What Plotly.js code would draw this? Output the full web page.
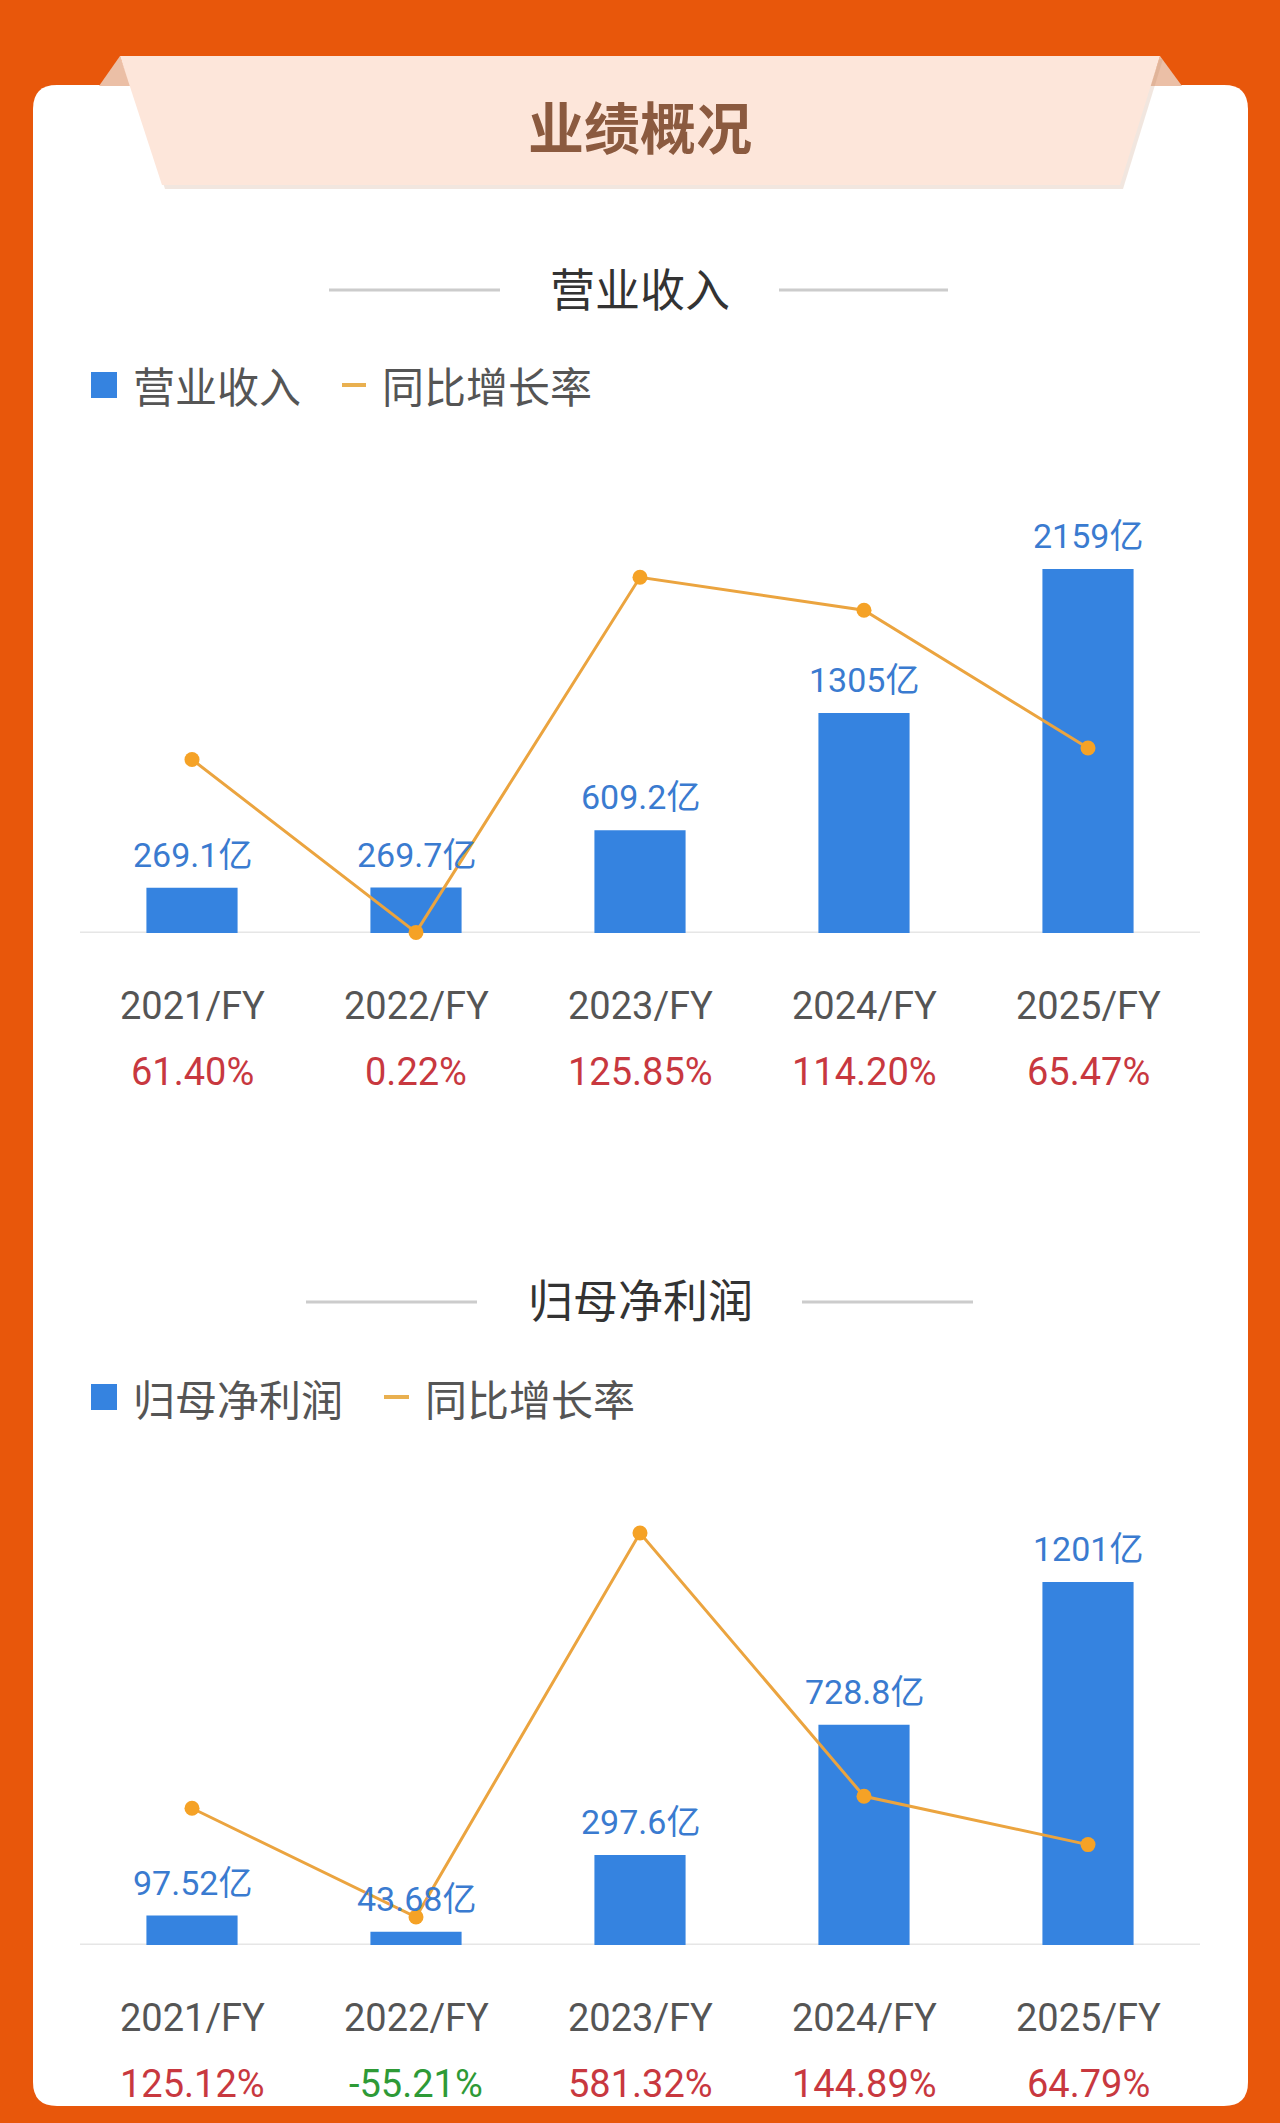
<!DOCTYPE html>
<html>
<head>
<meta charset="utf-8">
<script src="https://cdn.plot.ly/plotly-3.0.1.min.js"></script>
<style>
  html, body { margin: 0; padding: 0; background: #E8570B; }
  #chart { width: 1280px; height: 2123px; }
</style>
</head>
<body>
<div id="chart"></div>
<script>
// ---------- data ----------
const years = ['2021/FY', '2022/FY', '2023/FY', '2024/FY', '2025/FY'];

const revenue = [269.1, 269.7, 609.2, 1305, 2159];
const revenueLabels = ['269.1亿', '269.7亿', '609.2亿', '1305亿', '2159亿'];
const revenueGrowth = [61.40, 0.22, 125.85, 114.20, 65.47];
const revenueGrowthLabels = ['61.40%', '0.22%', '125.85%', '114.20%', '65.47%'];

const profit = [97.52, 43.68, 297.6, 728.8, 1201];
const profitLabels = ['97.52亿', '43.68亿', '297.6亿', '728.8亿', '1201亿'];
const profitGrowth = [125.12, -55.21, 581.32, 144.89, 64.79];
const profitGrowthLabels = ['125.12%', '-55.21%', '581.32%', '144.89%', '64.79%'];

const mainTitle = '业绩概况';
const section1Title = '营业收入';
const section2Title = '归母净利润';
const legend1Bar = '营业收入';
const legend2Bar = '归母净利润';
const legendLine = '同比增长率';

// ---------- helpers ----------
const W = 1280, H = 2123;
const px = x => x / W;
const py = y => 1 - y / H;
const P = (x, y) => px(x).toFixed(5) + ',' + py(y).toFixed(5);

const CJK = '"Noto Sans CJK SC", "Noto Sans", sans-serif';
const NUM = 'Roboto, "Noto Sans CJK SC", sans-serif';

const BAR_COLOR = '#3583E0';
const LINE_COLOR = '#EBA43F';
const MARKER_COLOR = '#F5A226';
const LABEL_BLUE = '#3A7BD0';
const RED = '#C8383F';
const GREEN = '#2E9A36';

function roundRectPath(x0, y0, x1, y1, r) {
  return 'M' + P(x0 + r, y0) + ' L' + P(x1 - r, y0) + ' Q' + P(x1, y0) + ' ' + P(x1, y0 + r) +
    ' L' + P(x1, y1 - r) + ' Q' + P(x1, y1) + ' ' + P(x1 - r, y1) +
    ' L' + P(x0 + r, y1) + ' Q' + P(x0, y1) + ' ' + P(x0, y1 - r) +
    ' L' + P(x0, y0 + r) + ' Q' + P(x0, y0) + ' ' + P(x0 + r, y0) + ' Z';
}
function poly(pts) {
  return 'M' + pts.map(p => P(p[0], p[1])).join(' L') + ' Z';
}

// ---------- traces ----------
const traces = [
  { type: 'bar', x: years, y: revenue, xaxis: 'x', yaxis: 'y',
    marker: { color: BAR_COLOR }, hoverinfo: 'skip' },
  { type: 'scatter', mode: 'lines+markers', x: years, y: revenueGrowth, xaxis: 'x', yaxis: 'y2',
    line: { color: LINE_COLOR, width: 3 }, marker: { color: MARKER_COLOR, size: 15 },
    cliponaxis: false, hoverinfo: 'skip' },
  { type: 'bar', x: years, y: profit, xaxis: 'x2', yaxis: 'y3',
    marker: { color: BAR_COLOR }, hoverinfo: 'skip' },
  { type: 'scatter', mode: 'lines+markers', x: years, y: profitGrowth, xaxis: 'x2', yaxis: 'y4',
    line: { color: LINE_COLOR, width: 3 }, marker: { color: MARKER_COLOR, size: 15 },
    cliponaxis: false, hoverinfo: 'skip' }
];

// ---------- shapes ----------
const shapes = [];
// white card
shapes.push({ type: 'path', xref: 'paper', yref: 'paper', layer: 'below',
  path: roundRectPath(33, 85, 1248, 2106, 24), fillcolor: '#FFFFFF', line: { width: 0 } });
// banner folds
shapes.push({ type: 'path', xref: 'paper', yref: 'paper', layer: 'below',
  path: poly([[120, 56], [99, 86], [131, 86]]), fillcolor: '#EBBFA6', line: { width: 0 } });
shapes.push({ type: 'path', xref: 'paper', yref: 'paper', layer: 'below',
  path: poly([[1160, 56], [1182, 86], [1150, 86]]), fillcolor: '#EBBFA6', line: { width: 0 } });
// banner shadow
shapes.push({ type: 'path', xref: 'paper', yref: 'paper', layer: 'below',
  path: poly([[123, 59], [1163, 59], [1123, 189], [165, 189]]), fillcolor: 'rgba(190,140,110,0.22)', line: { width: 0 } });
// banner
shapes.push({ type: 'path', xref: 'paper', yref: 'paper', layer: 'below',
  path: poly([[120, 56], [1160, 56], [1120, 185], [162, 185]]), fillcolor: '#FDE6DA', line: { width: 0 } });

// section title side lines
function hline(x0, x1, y, color, width) {
  shapes.push({ type: 'line', xref: 'paper', yref: 'paper', layer: 'below',
    x0: px(x0), x1: px(x1), y0: py(y), y1: py(y), line: { color: color, width: width } });
}
hline(329, 500, 290, '#CCCCCC', 3);
hline(779, 948, 290, '#CCCCCC', 3);
hline(306, 477, 1302, '#CCCCCC', 3);
hline(802, 973, 1302, '#CCCCCC', 3);

// legend markers
function square(x0, y0, s, color) {
  shapes.push({ type: 'rect', xref: 'paper', yref: 'paper', layer: 'below',
    x0: px(x0), x1: px(x0 + s), y0: py(y0), y1: py(y0 + s), fillcolor: color, line: { width: 0 } });
}
square(91, 372, 26, BAR_COLOR);
square(91, 1384, 26, BAR_COLOR);
hline(342, 366, 385, '#E9B050', 4);
hline(384, 409, 1397, '#E9B050', 4);

// baselines
shapes.push({ type: 'line', xref: 'paper', yref: 'y', layer: 'below',
  x0: px(80), x1: px(1200), y0: 0, y1: 0, line: { color: '#E6E6E6', width: 3 } });
shapes.push({ type: 'line', xref: 'paper', yref: 'y3', layer: 'below',
  x0: px(80), x1: px(1200), y0: 0, y1: 0, line: { color: '#E6E6E6', width: 3 } });

// ---------- annotations ----------
const annotations = [];
function textAt(x, y, text, size, color, family, xanchor) {
  annotations.push({ xref: 'paper', yref: 'paper', x: px(x), y: py(y), text: text,
    showarrow: false, xanchor: xanchor || 'center', yanchor: 'middle',
    font: { size: size, color: color, family: family } });
}
textAt(640, 124, '<b>' + mainTitle + '</b>', 56, '#8B5A3F', CJK);
textAt(640, 287, section1Title, 45, '#333333', CJK);
textAt(640, 1298, section2Title, 45, '#333333', CJK);
textAt(131, 385, legend1Bar, 42, '#555555', CJK, 'left');
textAt(380, 385, legendLine, 42, '#555555', CJK, 'left');
textAt(131, 1397, legend2Bar, 42, '#555555', CJK, 'left');
textAt(423, 1397, legendLine, 42, '#555555', CJK, 'left');

function chartLabels(xref, yref, values, valueLabels, growth, growthLabels) {
  years.forEach((yr, i) => {
    annotations.push({ xref: xref, yref: yref, x: yr, y: values[i], text: valueLabels[i],
      showarrow: false, xanchor: 'center', yanchor: 'bottom', yshift: 11,
      font: { size: 34, color: LABEL_BLUE, family: NUM } });
    annotations.push({ xref: xref, yref: yref, x: yr, y: 0, text: yr,
      showarrow: false, xanchor: 'center', yanchor: 'middle', yshift: -73,
      font: { size: 38, color: '#555555', family: NUM } });
    annotations.push({ xref: xref, yref: yref, x: yr, y: 0, text: growthLabels[i],
      showarrow: false, xanchor: 'center', yanchor: 'middle', yshift: -139,
      font: { size: 38, color: growth[i] < 0 ? GREEN : RED, family: NUM } });
  });
}
chartLabels('x', 'y', revenue, revenueLabels, revenueGrowth, revenueGrowthLabels);
chartLabels('x2', 'y3', profit, profitLabels, profitGrowth, profitGrowthLabels);

// ---------- layout ----------
const xBase = { type: 'category', categoryorder: 'array', categoryarray: years,
  domain: [px(80), px(1200)], range: [-0.5, 4.5], showticklabels: false, showgrid: false,
  zeroline: false, showline: false, ticks: '', fixedrange: true };

const layout = {
  width: W, height: H, autosize: false,
  margin: { l: 0, r: 0, t: 0, b: 0, pad: 0 },
  paper_bgcolor: '#E8570B', plot_bgcolor: 'rgba(0,0,0,0)',
  showlegend: false, bargap: 0.593,
  font: { family: NUM },
  xaxis: Object.assign({}, xBase, { anchor: 'y' }),
  yaxis: { domain: [py(933), py(500)], range: [0, 2568], visible: false, fixedrange: true },
  yaxis2: { overlaying: 'y', anchor: 'x', range: [0, 153.2], visible: false, fixedrange: true },
  xaxis2: Object.assign({}, xBase, { anchor: 'y3' }),
  yaxis3: { domain: [py(1945), py(1480)], range: [0, 1538], visible: false, fixedrange: true },
  yaxis4: { overlaying: 'y3', anchor: 'x2', range: [-101.6, 669.2], visible: false, fixedrange: true },
  shapes: shapes,
  annotations: annotations
};

Plotly.newPlot('chart', traces, layout, { staticPlot: true, displayModeBar: false });
</script>
</body>
</html>
